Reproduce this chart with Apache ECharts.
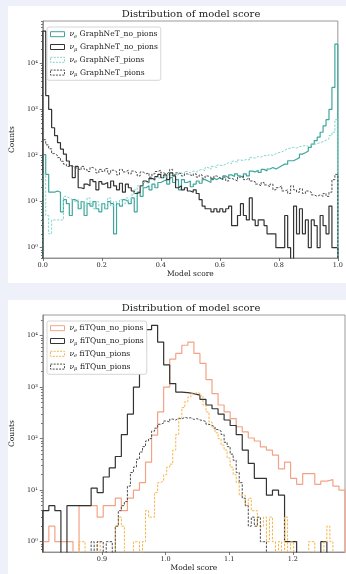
<!DOCTYPE html>
<html>
<head>
<meta charset="utf-8">
<script src="https://cdn.jsdelivr.net/npm/echarts@6/dist/echarts.min.js"></script>
<style>
  html, body { margin: 0; padding: 0; background: #eef0fa; }
  #chart { width: 346px; height: 574px; }
</style>
</head>
<body>
<div id="chart"></div>
<script>
// ---------- GraphNeT model score histograms (100 bins over [0, 1]) ----------
const gnRange = [0, 1];
const gnBinCount = 100;

const gnNuENoPions = [
  105, 39, 16, 16, 17, 16, 6, 11, 9, 5,
  11, 10, 7, 10, 5, 9, 8, 10, 7, 6,
  9, 7, 10, 9, 2, 9, 8, 11, 10, 9,
  12, 6, 16, 13, 20, 22, 18, 24, 20, 26,
  28, 30, 24, 33, 26, 30, 18, 30, 26, 28,
  21, 24, 28, 25, 30, 28, 26, 32, 30, 33,
  30, 36, 33, 38, 35, 40, 36, 33, 40, 36,
  46, 44, 48, 43, 50, 46, 51, 55, 51, 55,
  60, 65, 65, 77, 77, 83, 90, 107, 115, 126,
  150, 177, 210, 250, 320, 440, 600, 1000, 3000, 26000
];
const gnNuMuNoPions = [
  50000, 2000, 1000, 400, 270, 190, 137, 107, 76, 60,
  33, 58, 20, 19, 24, 22, 30, 27, 18, 27,
  24, 26, 20, 28, 22, 18, 25, 16, 24, 20,
  17, 15, 16, 22, 28, 26, 32, 30, 35, 39,
  33, 38, 30, 42, 36, 20, 22, 18, 20, 17,
  16, 18, 15, 11, 8, 7, 7, 6, 7, 6,
  7, 6, 7, 8, 3, 3, 5, 9, 5, 4,
  12, 4, 3, 4, 4, 3, 2, 2, 2, 1,
  1, 1, 5, 1, 0, 8, 2, 7, 2, 4,
  1, 4, 3, 1, 5, 3, 2, 8, 1, 1
];
const gnNuEPions = [
  40, 5, 2, 4, 4, 4, 4, 13, 12, 11,
  10, 11, 9, 10, 8, 12, 9, 7, 10, 8,
  9, 7, 12, 8, 10, 9, 11, 9, 12, 10,
  14, 18, 22, 20, 26, 25, 30, 28, 33, 32,
  35, 34, 38, 36, 40, 37, 42, 40, 45, 42,
  46, 44, 48, 50, 47, 55, 50, 58, 55, 62,
  60, 65, 70, 66, 75, 72, 80, 78, 82, 80,
  90, 88, 95, 92, 100, 98, 105, 100, 110, 115,
  120, 130, 140, 145, 150, 145, 155, 160, 165, 158,
  170, 175, 180, 190, 200, 215, 230, 270, 320, 600
];
const gnNuMuPions = [
  220, 170, 140, 110, 100, 90, 75, 65, 58, 60,
  55, 52, 48, 58, 50, 45, 55, 50, 42, 50,
  45, 52, 40, 48, 45, 38, 50, 44, 48, 40,
  46, 42, 36, 44, 40, 42, 34, 40, 45, 48,
  42, 40, 44, 50, 38, 42, 40, 36, 40, 38,
  36, 40, 34, 38, 32, 36, 34, 30, 36, 33,
  30, 34, 28, 32, 30, 28, 34, 36, 30, 33,
  28, 27, 24, 22, 26, 23, 21, 24, 18, 20,
  22, 17, 18, 15, 22, 18, 16, 19, 15, 17,
  16, 14, 13, 14, 13, 15, 13, 16, 30, 39
];

// ---------- fiTQun model score histograms ----------
const fqRange = [0.807, 1.282];
const fqSolidBinCount = 50;   // no_pions samples
const fqDashedBinCount = 100; // pions samples

const fqNuENoPions = [
  1, 2, 1, 1, 1, 0, 5, 5, 5, 3,
  5, 5, 7, 4, 7, 10, 14, 35, 117, 330,
  1000, 3500, 4500, 6500, 7500, 4500, 2900, 1400, 750, 450,
  330, 245, 170, 135, 103, 90, 69, 60, 48, 26,
  35, 17, 13, 21, 21, 13, 15, 16, 12, 10
];
const fqNuMuNoPions = [
  4, 5, 4, 0, 5, 5, 5, 5, 11, 9,
  18, 27, 45, 120, 300, 1000, 5000, 13000, 15800, 7500,
  2700, 1170, 800, 780, 750, 700, 580, 450, 380, 300,
  230, 180, 120, 60, 33, 17, 17, 8, 10, 8,
  1, 1, 0, 0, 0, 0, 1, 0, 0, 0
];
const fqNuEPions = [
  0, 0, 0, 0, 0, 0, 0, 0, 0, 0,
  0, 0, 1, 1, 0, 0, 0, 0, 1, 0,
  0, 0, 0, 0, 2, 3, 2, 0, 0, 0,
  1, 1, 0, 1, 4, 3, 3, 9, 14, 15,
  20, 28, 32, 60, 120, 250, 400, 520, 640, 740,
  780, 760, 680, 450, 330, 210, 160, 130, 100, 75,
  60, 42, 28, 20, 14, 8, 8, 5, 7, 4,
  4, 2, 2, 3, 1, 3, 1, 0, 1, 0,
  3, 0, 1, 0, 0, 0, 0, 0, 1, 1,
  0, 0, 0, 1, 2, 1, 0, 0, 0, 0
];
const fqNuMuPions = [
  0, 0, 0, 0, 0, 0, 0, 0, 0, 0,
  0, 0, 0, 0, 0, 0, 1, 0, 1, 1,
  0, 1, 1, 0, 2, 4, 5, 6, 12, 22,
  28, 40, 55, 70, 90, 100, 140, 160, 190, 200,
  220, 210, 240, 230, 250, 240, 260, 250, 255, 235,
  245, 230, 225, 215, 190, 180, 170, 150, 140, 120,
  85, 70, 50, 38, 22, 14, 7, 5, 2, 3,
  2, 3, 1, 1, 0, 0, 0, 0, 0, 0,
  0, 0, 0, 0, 0, 0, 0, 0, 0, 0,
  0, 0, 0, 0, 0, 0, 0, 0, 0, 0
];

// ---------- axis ticks ----------
const gnScoreTicks = [0.0, 0.2, 0.4, 0.6, 0.8, 1.0];
const fqScoreTicks = [0.9, 1.0, 1.1, 1.2];
const countTicks = [1, 10, 100, 1000, 10000];
const gnCountRange = [0.598, 82800];
const fqCountRange = [0.631, 25100];

// ---------- colours ----------
const TEAL = '#3fa69c', TEAL_LIGHT = '#82d5cb';
const DARK = '#333333', DARK_DASH = '#4d4d4d';
const SALMON = '#f3a385', AMBER = '#f7b44a';

const SERIF = 'DejaVu Serif';
const SUP = ['\u2070', '\u00b9', '\u00b2', '\u00b3', '\u2074', '\u2075'];
const FLOOR = 1e-3; // empty bins fall below the log axis and get clipped

function binEdges(range, n) {
  const w = (range[1] - range[0]) / n;
  return Array.from({ length: n + 1 }, (_, i) => range[0] + i * w);
}

// outline of a step histogram: up from the floor, across each bin, back down
function stepPoints(edges, counts) {
  const pts = [[edges[0], FLOOR]];
  counts.forEach((c, i) => pts.push([edges[i], c > 0 ? c : FLOOR]));
  pts.push([edges[counts.length], FLOOR]);
  return pts;
}

function minorTicks(range) {
  const out = [];
  for (let k = -1; k <= 5; k++) {
    for (let m = 2; m <= 9; m++) {
      const v = m * Math.pow(10, k);
      if (v > range[0] && v < range[1]) out.push(v);
    }
  }
  return out;
}

function histSeries(name, edges, counts, color, dashed, grid) {
  return {
    type: 'line', name,
    xAxisIndex: grid, yAxisIndex: grid * 2,
    data: stepPoints(edges, counts),
    step: 'end', symbol: 'none', showSymbol: false,
    clip: true, silent: true, animation: false,
    lineStyle: { color, width: dashed ? 1 : 1.2, type: dashed ? [2.4, 1.4] : 'solid' },
    itemStyle: { color },
    emphasis: { disabled: true }
  };
}

const tickLine = { color: '#555555', width: 0.8 };
const labelStyle = { fontFamily: SERIF, fontSize: 6.5, color: '#222222' };
const nameStyle = { fontFamily: SERIF, fontSize: 7.5, color: '#222222' };
const frameLine = { show: true, onZero: false, lineStyle: { color: '#808080', width: 0.8 } };

function xAxisFor(grid, range, ticks) {
  return {
    type: 'value', gridIndex: grid, min: range[0], max: range[1],
    axisLine: frameLine, splitLine: { show: false },
    axisTick: { customValues: ticks, length: 3, lineStyle: tickLine },
    axisLabel: Object.assign({ customValues: ticks, margin: 4, formatter: v => v.toFixed(1) }, labelStyle),
    name: 'Model score', nameLocation: 'middle', nameGap: 12.5, nameTextStyle: nameStyle
  };
}

function yAxesFor(grid, range) {
  return [
    {
      type: 'log', logBase: 10, gridIndex: grid, position: 'left', min: range[0], max: range[1],
      axisLine: frameLine, splitLine: { show: false },
      axisTick: { customValues: countTicks, length: 3, lineStyle: tickLine },
      axisLabel: Object.assign({
        customValues: countTicks, margin: 5,
        formatter: v => '10' + SUP[Math.round(Math.log10(v))]
      }, labelStyle),
      name: 'Counts', nameLocation: 'middle', nameGap: 20, nameTextStyle: nameStyle
    },
    {
      type: 'log', logBase: 10, gridIndex: grid, position: 'left', min: range[0], max: range[1],
      axisLine: { show: false }, splitLine: { show: false }, axisLabel: { show: false },
      axisTick: { customValues: minorTicks(range), length: 1.8, lineStyle: tickLine }
    }
  ];
}

function legendLabel(name) {
  return '{nu|\u03bd}{sub|' + name[1] + '} {t|' + name.slice(3) + '}';
}

function legendFor(items, top) {
  return {
    orient: 'vertical', left: 47, top,
    itemWidth: 14, itemHeight: 5, itemGap: 3.4,
    padding: [2.5, 3, 3, 3],
    backgroundColor: '#ffffff', borderColor: '#cccccc', borderWidth: 0.8, borderRadius: 2,
    selectedMode: false,
    data: items.map(([name, color, dashed]) => ({
      name, icon: 'rect',
      itemStyle: { color: '#ffffff', borderColor: color, borderWidth: 1, borderType: dashed ? [2, 1.2] : 'solid' }
    })),
    formatter: legendLabel,
    textStyle: {
      fontFamily: SERIF, fontSize: 7.6, color: '#222222', lineHeight: 9.4,
      rich: {
        nu: { fontFamily: SERIF, fontStyle: 'italic', fontSize: 7.6, lineHeight: 9.4, color: '#222222' },
        sub: { fontFamily: SERIF, fontStyle: 'italic', fontSize: 5.2, lineHeight: 5.2, verticalAlign: 'bottom', color: '#222222' },
        t: { fontFamily: SERIF, fontSize: 7.6, lineHeight: 9.4, color: '#222222' }
      }
    }
  };
}

const gnEdges = binEdges(gnRange, gnBinCount);
const fqSolidEdges = binEdges(fqRange, fqSolidBinCount);
const fqDashedEdges = binEdges(fqRange, fqDashedBinCount);

const gnItems = [
  ['\u03bde GraphNeT_no_pions', TEAL, false],
  ['\u03bd\u03bc GraphNeT_no_pions', DARK, false],
  ['\u03bde GraphNeT_pions', TEAL_LIGHT, true],
  ['\u03bd\u03bc GraphNeT_pions', DARK_DASH, true]
];
const fqItems = [
  ['\u03bde fiTQun_no_pions', SALMON, false],
  ['\u03bd\u03bc fiTQun_no_pions', DARK, false],
  ['\u03bde fiTQun_pions', AMBER, true],
  ['\u03bd\u03bc fiTQun_pions', DARK_DASH, true]
];

const chart = echarts.init(document.getElementById('chart'), null, { renderer: 'canvas' });
chart.setOption({
  backgroundColor: '#eef0fa',
  animation: false,
  graphic: [
    { type: 'rect', silent: true, z: -10, shape: { x: 8, y: 6, width: 338, height: 277 }, style: { fill: '#ffffff' } },
    { type: 'rect', silent: true, z: -10, shape: { x: 8, y: 300, width: 338, height: 274 }, style: { fill: '#ffffff' } }
  ],
  title: [
    { text: 'Distribution of model score', left: 191, top: 9, textAlign: 'center', padding: 0,
      textStyle: { fontFamily: SERIF, fontSize: 10, fontWeight: 'normal', color: '#222222' } },
    { text: 'Distribution of model score', left: 191, top: 303, textAlign: 'center', padding: 0,
      textStyle: { fontFamily: SERIF, fontSize: 10, fontWeight: 'normal', color: '#222222' } }
  ],
  grid: [
    { left: 38, top: 21, right: 2, bottom: 316, show: true, borderColor: '#808080', borderWidth: 0.8, containLabel: false },
    { left: 38, top: 315, right: 1, bottom: 22, show: true, borderColor: '#808080', borderWidth: 0.8, containLabel: false }
  ],
  xAxis: [xAxisFor(0, gnRange, gnScoreTicks), xAxisFor(1, fqRange, fqScoreTicks)],
  yAxis: yAxesFor(0, gnCountRange).concat(yAxesFor(1, fqCountRange)),
  legend: [legendFor(gnItems, 27), legendFor(fqItems, 321)],
  series: [
    histSeries(gnItems[0][0], gnEdges, gnNuENoPions, TEAL, false, 0),
    histSeries(gnItems[1][0], gnEdges, gnNuMuNoPions, DARK, false, 0),
    histSeries(gnItems[2][0], gnEdges, gnNuEPions, TEAL_LIGHT, true, 0),
    histSeries(gnItems[3][0], gnEdges, gnNuMuPions, DARK_DASH, true, 0),
    histSeries(fqItems[0][0], fqSolidEdges, fqNuENoPions, SALMON, false, 1),
    histSeries(fqItems[1][0], fqSolidEdges, fqNuMuNoPions, DARK, false, 1),
    histSeries(fqItems[2][0], fqDashedEdges, fqNuEPions, AMBER, true, 1),
    histSeries(fqItems[3][0], fqDashedEdges, fqNuMuPions, DARK_DASH, true, 1)
  ]
});
</script>
</body>
</html>
